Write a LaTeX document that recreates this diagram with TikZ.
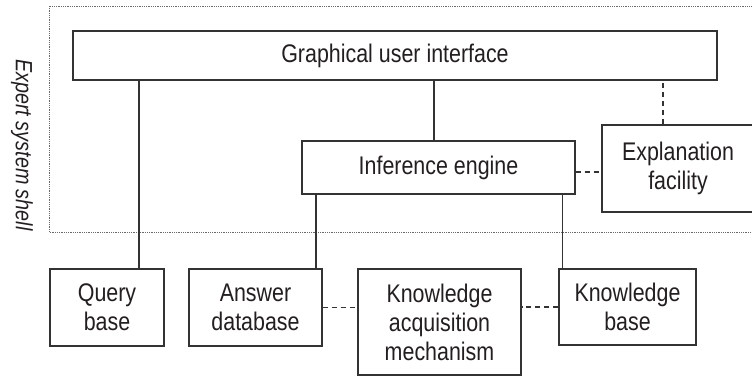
\documentclass[tikz,border=0pt]{standalone}
\usepackage{fontspec}
\setmainfont{Liberation Sans}[FakeStretch=0.84]
\usetikzlibrary{calc}

\definecolor{ink}{HTML}{231F20}
\definecolor{rule}{HTML}{333333}
\definecolor{shellline}{HTML}{6A6A6A}

\tikzset{
  unit/.style={draw=rule, line width=1.3pt, fill=white, inner sep=0pt,
    align=center, text=ink, font=\fontsize{25.5}{29}\selectfont},
  link/.style={draw=rule, line width=1.3pt},
  weaklink/.style={draw=rule, line width=1.2pt, dash pattern=on 5pt off 4pt},
  shell/.style={draw=shellline, line width=0.9pt, dash pattern=on 0.9pt off 0.9pt},
}

\begin{document}
\begin{tikzpicture}[x=1pt, y=-1pt]
  \useasboundingbox (0,0) rectangle (752,377);
  \clip (0,0) rectangle (752,377);

  % region holding the shell components
  \draw[shell] (49,6) rectangle (770,232);
  \node[rotate=-90, text=ink, font=\fontsize{23.5}{28}\selectfont\itshape]
    (shelllabel) at (22,145) {Expert system shell};

  % components
  \node[unit, minimum width=644pt, minimum height=49pt] (gui) at (395,55.5)
    {Graphical user interface};
  \node[unit, minimum width=273pt, minimum height=53pt] (inf) at (438.5,167.5)
    {Inference engine};
  \node[unit, minimum width=152pt, minimum height=87pt] (expl) at (678,168.5)
    {Explanation\\facility};
  \node[unit, minimum width=114pt, minimum height=77pt] (query) at (107,307.5)
    {Query\\base};
  \node[unit, minimum width=133pt, minimum height=77pt] (answer) at (255.5,307.5)
    {Answer\\database};
  \node[unit, minimum width=163pt, minimum height=106pt] (kam) at (439.5,322)
    {Knowledge\\acquisition\\mechanism};
  \node[unit, minimum width=137pt, minimum height=76pt] (kb) at (627.5,307)
    {Knowledge\\base};

  % solid connections
  \draw[link] ([xshift=32pt]query.north) -- ([xshift=32pt]query.north |- gui.south);
  \draw[link] ([xshift=-4.5pt]inf.north) -- ([xshift=-4.5pt]inf.north |- gui.south);
  \draw[link] ([xshift=14.5pt]inf.south west) -- ([xshift=14.5pt]inf.south west |- answer.north);
  \draw[link] ([xshift=-13.2pt]inf.south east) -- ([xshift=-13.2pt]inf.south east |- kb.north);

  % dashed connections
  \draw[weaklink] ([xshift=-15pt]expl.north) -- ([xshift=-15pt]expl.north |- gui.south);
  \draw[weaklink] ([yshift=-4.5pt]inf.east) -- ([yshift=-4.5pt]inf.east -| expl.west);
  \draw[weaklink] (answer.east) -- (answer.east -| kam.west);
  \draw[weaklink] (kb.west) -- (kb.west -| kam.east);
\end{tikzpicture}
\end{document}
